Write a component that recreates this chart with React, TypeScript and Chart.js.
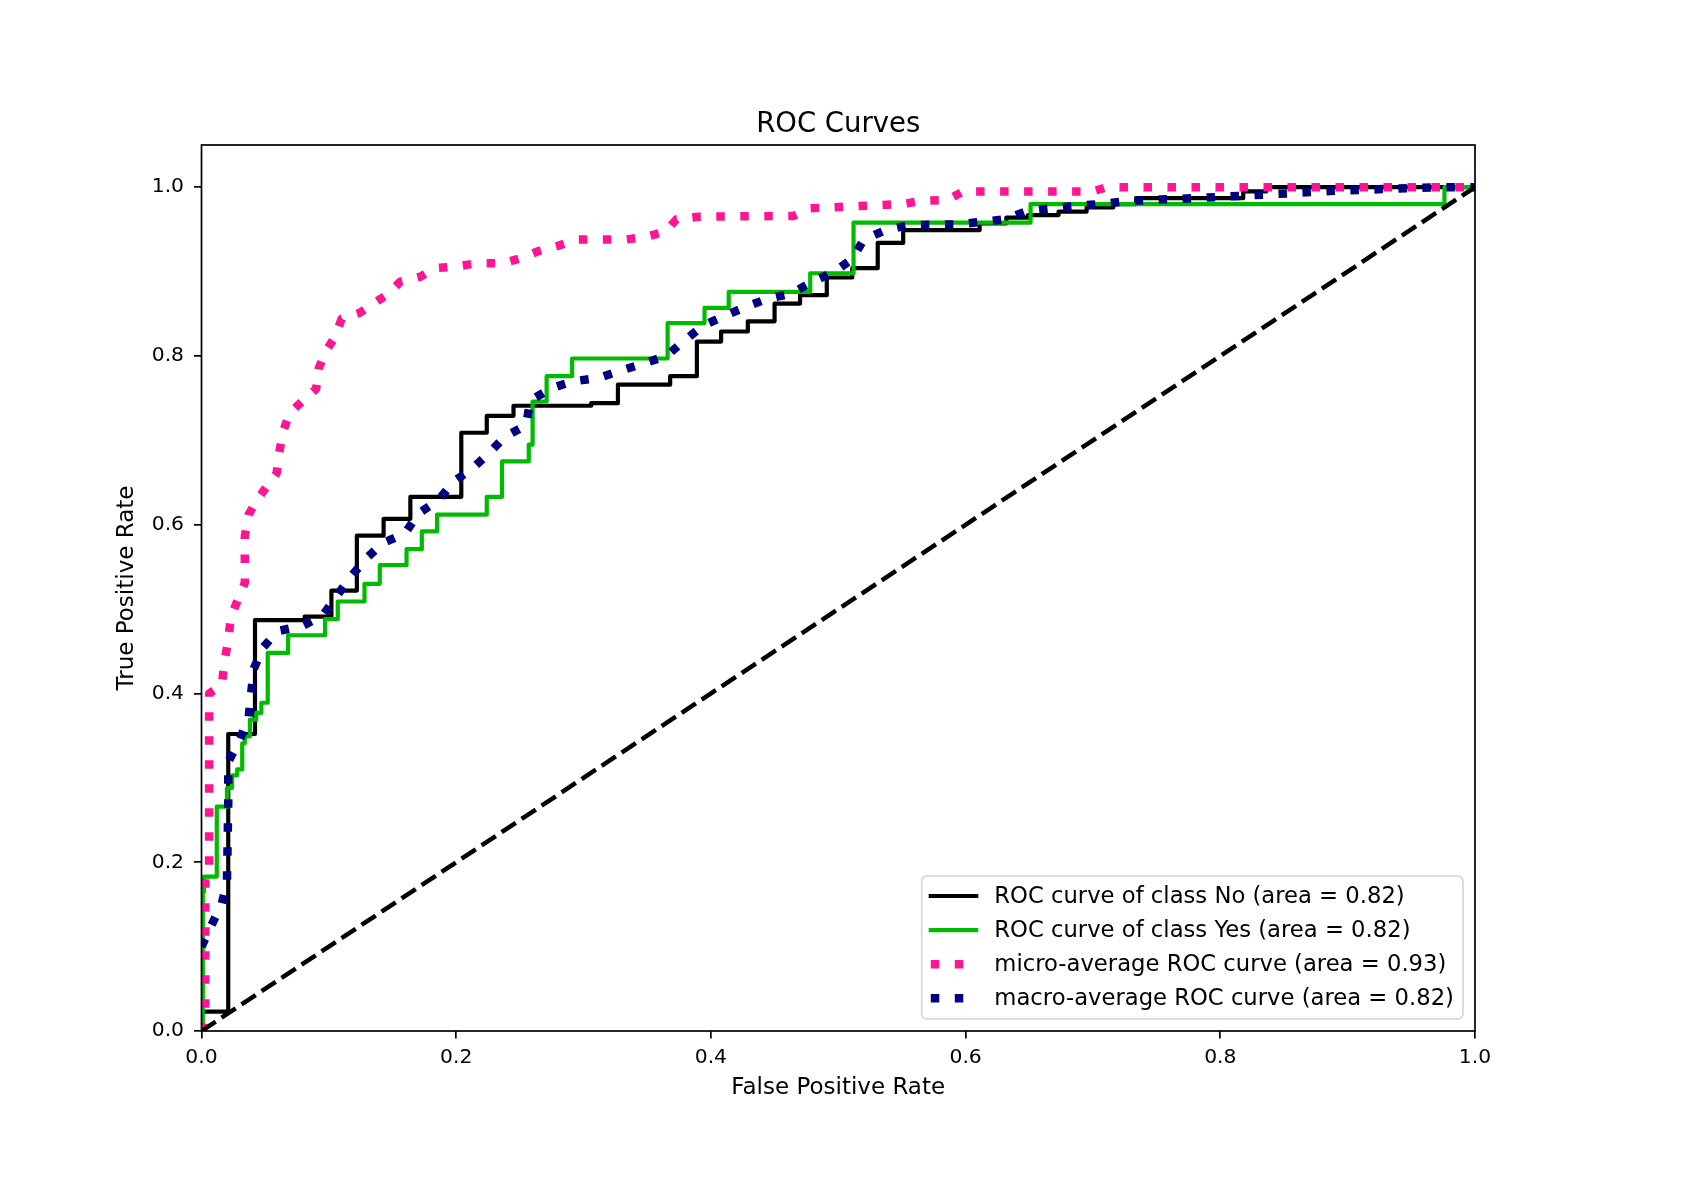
import React, { useEffect, useRef } from 'react';
import { Chart, registerables } from 'chart.js';

Chart.register(...registerables);

const FONT = '"DejaVu Sans", "Liberation Sans", sans-serif';

const titleText = 'ROC Curves';
const xAxisLabel = 'False Positive Rate';
const yAxisLabel = 'True Positive Rate';

const xTicks = [0, 0.2, 0.4, 0.6, 0.8, 1.0];
const xTickLabels = ['0.0', '0.2', '0.4', '0.6', '0.8', '1.0'];
const yTicks = [0, 0.2, 0.4, 0.6, 0.8, 1.0];
const yTickLabels = ['0.0', '0.2', '0.4', '0.6', '0.8', '1.0'];

const seriesLabels = [
  'ROC curve of class No (area = 0.82)',
  'ROC curve of class Yes (area = 0.82)',
  'micro-average ROC curve (area = 0.93)',
  'macro-average ROC curve (area = 0.82)',
];

// class "No" (step tops, horizontal-then-vertical)
const noFpr = [0, 0, 0.021, 0.042, 0.081, 0.102, 0.122, 0.143, 0.164, 0.204, 0.224, 0.245, 0.306, 0.327, 0.368, 0.389, 0.408, 0.429, 0.450, 0.470, 0.491, 0.511, 0.531, 0.551, 0.611, 0.632, 0.649, 0.673, 0.695, 0.716, 0.734, 0.818, 0.836, 1.0];
const noTpr = [0, 0.023, 0.352, 0.487, 0.491, 0.522, 0.587, 0.607, 0.633, 0.709, 0.729, 0.741, 0.744, 0.766, 0.776, 0.817, 0.829, 0.841, 0.862, 0.872, 0.893, 0.904, 0.934, 0.949, 0.957, 0.964, 0.967, 0.971, 0.976, 0.980, 0.987, 0.995, 1.0, 1.0];

// class "Yes"
const yesFpr = [0, 0.001, 0.002, 0.012, 0.020, 0.024, 0.028, 0.032, 0.034, 0.038, 0.043, 0.047, 0.052, 0.068, 0.097, 0.107, 0.128, 0.140, 0.161, 0.173, 0.185, 0.224, 0.236, 0.257, 0.260, 0.271, 0.291, 0.366, 0.395, 0.414, 0.478, 0.512, 0.651, 0.976, 1.0];
const yesTpr = [0, 0.165, 0.183, 0.266, 0.288, 0.303, 0.310, 0.341, 0.349, 0.369, 0.377, 0.389, 0.448, 0.469, 0.488, 0.509, 0.530, 0.552, 0.571, 0.592, 0.612, 0.633, 0.675, 0.695, 0.746, 0.776, 0.797, 0.839, 0.857, 0.876, 0.898, 0.958, 0.980, 1.0, 1.0];

// micro-average
const microFpr = [0, 0.003, 0.003, 0.006, 0.006, 0.016, 0.018, 0.021, 0.023, 0.028, 0.034, 0.034, 0.037, 0.043, 0.051, 0.059, 0.061, 0.064, 0.069, 0.079, 0.090, 0.092, 0.097, 0.105, 0.110, 0.124, 0.135, 0.147, 0.156, 0.172, 0.183, 0.200, 0.217, 0.237, 0.251, 0.264, 0.279, 0.295, 0.333, 0.348, 0.364, 0.373, 0.390, 0.465, 0.478, 0.550, 0.567, 0.586, 0.598, 0.700, 0.711, 1.0];
const microTpr = [0, 0.01, 0.18, 0.19, 0.40, 0.41, 0.438, 0.463, 0.491, 0.509, 0.531, 0.586, 0.612, 0.628, 0.645, 0.661, 0.685, 0.710, 0.732, 0.746, 0.761, 0.785, 0.804, 0.823, 0.844, 0.851, 0.862, 0.874, 0.888, 0.894, 0.904, 0.906, 0.910, 0.910, 0.916, 0.924, 0.930, 0.938, 0.938, 0.941, 0.947, 0.962, 0.965, 0.966, 0.975, 0.980, 0.984, 0.985, 0.995, 0.995, 1.0, 1.0];

// macro-average
const macroFpr = [0, 0.008, 0.016, 0.020, 0.021, 0.021, 0.030, 0.037, 0.039, 0.041, 0.048, 0.060, 0.079, 0.095, 0.106, 0.117, 0.130, 0.142, 0.160, 0.170, 0.186, 0.198, 0.213, 0.226, 0.238, 0.255, 0.258, 0.275, 0.292, 0.312, 0.330, 0.347, 0.365, 0.379, 0.394, 0.410, 0.427, 0.445, 0.463, 0.480, 0.497, 0.511, 0.520, 0.537, 0.555, 0.594, 0.613, 0.631, 0.649, 0.668, 0.687, 0.706, 0.724, 0.743, 0.781, 0.819, 0.857, 0.894, 0.933, 0.971, 1.0];
const macroTpr = [0.100, 0.126, 0.151, 0.177, 0.270, 0.319, 0.345, 0.371, 0.400, 0.429, 0.454, 0.474, 0.480, 0.492, 0.515, 0.538, 0.561, 0.578, 0.590, 0.613, 0.629, 0.651, 0.667, 0.685, 0.704, 0.718, 0.747, 0.762, 0.770, 0.774, 0.783, 0.791, 0.800, 0.818, 0.836, 0.847, 0.858, 0.868, 0.874, 0.888, 0.900, 0.915, 0.938, 0.949, 0.955, 0.956, 0.959, 0.962, 0.972, 0.975, 0.978, 0.980, 0.983, 0.985, 0.987, 0.990, 0.993, 0.996, 0.998, 1.0, 1.0];

// chance line
const chanceFpr = [0, 1];
const chanceTpr = [0, 1];

const toPts = (xs: number[], ys: number[]) => xs.map((x, i) => ({ x, y: ys[i] }));

const LEGEND_FS = 22.7;

const decorPlugin = {
  id: 'decor',
  afterDatasetsDraw(chart: any) {
    const { ctx, chartArea: a } = chart;
    ctx.save();
    // frame
    ctx.strokeStyle = '#000';
    ctx.lineWidth = 1.7;
    ctx.setLineDash([]);
    ctx.strokeRect(a.left, a.top, a.right - a.left, a.bottom - a.top);
    // title
    ctx.fillStyle = '#000';
    ctx.font = `27.5px ${FONT}`;
    ctx.textAlign = 'center';
    ctx.textBaseline = 'alphabetic';
    ctx.fillText(titleText, (a.left + a.right) / 2, a.top - 13.5);

    // legend
    const fs = LEGEND_FS;
    const items = chart.data.datasets.filter((d: any) => d.label);
    ctx.font = `${fs}px ${FONT}`;
    let maxW = 0;
    items.forEach((d: any) => { maxW = Math.max(maxW, ctx.measureText(d.label).width); });
    const rowH = 34.1;
    const boxW = maxW + 3.6 * fs;
    const boxH = 143;
    const bx = a.right - 12 - boxW;
    const by = a.bottom - 12 - boxH;
    ctx.beginPath();
    (ctx as any).roundRect(bx, by, boxW, boxH, 5);
    ctx.fillStyle = 'rgba(255,255,255,0.8)';
    ctx.fill();
    ctx.strokeStyle = '#d4d4d4';
    ctx.lineWidth = 1.6;
    ctx.stroke();
    items.forEach((d: any, i: number) => {
      const cy = by + 20 + i * rowH;
      const hx = bx + 0.4 * fs;
      const hl = 2 * fs;
      ctx.beginPath();
      ctx.strokeStyle = d.borderColor;
      ctx.lineWidth = d.borderWidth;
      ctx.lineCap = d.borderCapStyle || 'butt';
      ctx.setLineDash(d.borderDash || []);
      ctx.moveTo(hx, cy);
      ctx.lineTo(hx + hl, cy);
      ctx.stroke();
      ctx.setLineDash([]);
      ctx.fillStyle = '#000';
      ctx.textAlign = 'left';
      ctx.textBaseline = 'middle';
      ctx.fillText(d.label, hx + hl + 0.8 * fs, cy + 1);
    });
    ctx.restore();
  },
};

export default function App() {
  const ref = useRef<HTMLCanvasElement>(null);
  useEffect(() => {
    document.body.style.margin = '0';
    const dotted = [8.5, 15.5];
    const chart = new Chart(ref.current as HTMLCanvasElement, {
      type: 'line',
      data: {
        datasets: [
          {
            label: seriesLabels[0],
            data: toPts(noFpr, noTpr),
            borderColor: '#000000',
            borderWidth: 4.2,
            stepped: 'before',
            borderJoinStyle: 'round',
            borderCapStyle: 'square',
            pointRadius: 0,
            fill: false,
            order: 4,
            clip: 0,
          },
          {
            label: seriesLabels[1],
            data: toPts(yesFpr, yesTpr),
            borderColor: '#00bb00',
            borderWidth: 4.2,
            stepped: 'before',
            borderJoinStyle: 'round',
            borderCapStyle: 'square',
            pointRadius: 0,
            fill: false,
            order: 3,
            clip: 0,
          },
          {
            label: seriesLabels[2],
            data: toPts(microFpr, microTpr),
            borderColor: '#ff1493',
            borderWidth: 8.5,
            borderDash: dotted,
            borderCapStyle: 'butt',
            borderJoinStyle: 'round',
            pointRadius: 0,
            tension: 0,
            fill: false,
            order: 2,
            clip: 0,
          },
          {
            label: seriesLabels[3],
            data: toPts(macroFpr, macroTpr),
            borderColor: '#000080',
            borderWidth: 8.5,
            borderDash: dotted,
            borderCapStyle: 'butt',
            borderJoinStyle: 'round',
            pointRadius: 0,
            tension: 0,
            fill: false,
            order: 1,
            clip: 0,
          },
          {
            label: '',
            data: toPts(chanceFpr, chanceTpr),
            borderColor: '#000000',
            borderWidth: 4.5,
            borderDash: [17, 7],
            borderCapStyle: 'butt',
            pointRadius: 0,
            fill: false,
            order: 0,
            clip: 0,
          },
        ] as any,
      },
      options: {
        animation: false,
        responsive: false,
        devicePixelRatio: 1,
        events: [],
        layout: { padding: { top: 145, right: 223, bottom: 0, left: 0 } },
        plugins: {
          legend: { display: false },
          tooltip: { enabled: false },
          title: { display: false },
        },
        scales: {
          x: {
            type: 'linear',
            min: 0,
            max: 1,
            afterFit: (s: any) => { s.height = 161; },
            afterBuildTicks: (s: any) => { s.ticks = xTicks.map((v) => ({ value: v })); },
            ticks: {
              autoSkip: false,
              maxRotation: 0,
              padding: 7.5,
              color: '#000',
              font: { family: FONT, size: 20.3 },
              callback: (v: any) => xTickLabels[xTicks.indexOf(Number(v))] ?? '',
            },
            grid: { display: true, drawOnChartArea: false, drawTicks: true, tickLength: 7.5, color: '#000', lineWidth: 1.7 },
            border: { display: false },
            title: {
              display: true,
              text: xAxisLabel,
              color: '#000',
              font: { family: FONT, size: 23 },
              padding: { top: 0, bottom: 90.5 },
            },
          },
          y: {
            type: 'linear',
            min: 0,
            max: 1.05,
            afterFit: (s: any) => { s.width = 201.5; },
            afterBuildTicks: (s: any) => { s.ticks = yTicks.map((v) => ({ value: v })); },
            ticks: {
              autoSkip: false,
              padding: 10,
              color: '#000',
              font: { family: FONT, size: 20.3 },
              callback: (v: any) => yTickLabels[yTicks.indexOf(Number(v))] ?? '',
            },
            grid: { display: true, drawOnChartArea: false, drawTicks: true, tickLength: 7.5, color: '#000', lineWidth: 1.7 },
            border: { display: false },
            title: {
              display: true,
              text: yAxisLabel,
              color: '#000',
              font: { family: FONT, size: 23 },
              padding: { top: 113, bottom: 0 },
            },
          },
        },
      } as any,
      plugins: [decorPlugin],
    });
    return () => chart.destroy();
  }, []);
  return (
    <div style={{ width: 1698, height: 1192, background: '#fff' }}>
      <canvas ref={ref} width={1698} height={1192} style={{ display: 'block', width: 1698, height: 1192 }} />
    </div>
  );
}
